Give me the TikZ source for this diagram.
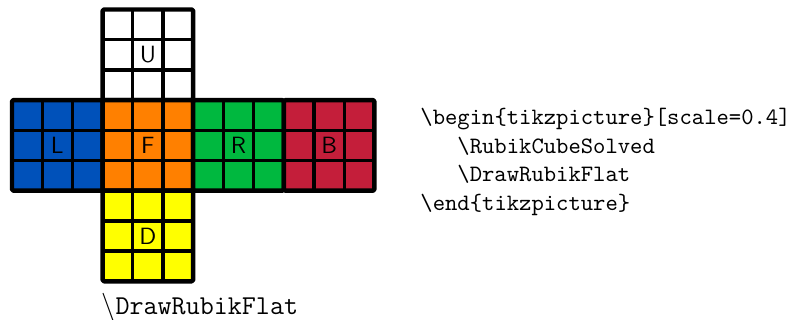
\documentclass[tikz,border=0pt]{standalone}
\definecolor{rbBlue}{HTML}{0051BA}
\definecolor{rbOrange}{HTML}{FF8000}
\definecolor{rbGreen}{HTML}{00B83F}
\definecolor{rbRed}{HTML}{C41E3A}
\definecolor{rbYellow}{HTML}{FFFF00}
\tikzset{
  facegrid/.style={draw=black, line width=1.4pt},
  faceedge/.style={draw=black, line width=1.9pt, line join=round, rounded corners=0.6pt},
  facelabel/.style={font=\sffamily\fontsize{10}{12}\selectfont, inner sep=0pt},
  codeline/.style={font=\ttfamily\fontsize{10}{12}\selectfont, anchor=base west, inner sep=0pt},
  captiontext/.style={font=\fontsize{11.6}{14}\selectfont, anchor=base west, inner sep=0pt}
}
\newcommand{\rbFace}[4]{% #1 x, #2 y (top-left), #3 colour, #4 name
  \fill[#3] (#1,#2) rectangle ++(90.6,90.6);
  \draw[facegrid] (#1+30.2,#2) -- ++(0,90.6) (#1+60.4,#2) -- ++(0,90.6)
                  (#1,#2+30.2) -- ++(90.6,0) (#1,#2+60.4) -- ++(90.6,0);
  \draw[faceedge] (#1,#2) rectangle ++(90.6,90.6);
  \node[facelabel] (lab#4) at (#1+45.3,#2+45.3) {#4};
}
\begin{document}
\begin{tikzpicture}[x=0.4255pt,y=-0.4255pt]
  \useasboundingbox (0,0) rectangle (796,320);
  \rbFace{102.6}{9.5}{white}{U}
  \rbFace{12}{100.1}{rbBlue}{L}
  \rbFace{102.6}{100.1}{rbOrange}{F}
  \rbFace{193.2}{100.1}{rbGreen}{R}
  \rbFace{283.8}{100.1}{rbRed}{B}
  \rbFace{102.6}{190.7}{rbYellow}{D}
  \node[captiontext] (caption) at (101,315) {$\backslash$\texttt{DrawRubikFlat}};
  \node[codeline] (c1) at (420,125) {\textbackslash begin\{tikzpicture\}[scale=0.4]};
  \node[codeline] (c2) at (457,153.5) {\textbackslash RubikCubeSolved};
  \node[codeline] (c3) at (457,182) {\textbackslash DrawRubikFlat};
  \node[codeline] (c4) at (420,210.5) {\textbackslash end\{tikzpicture\}};
\end{tikzpicture}
\end{document}
